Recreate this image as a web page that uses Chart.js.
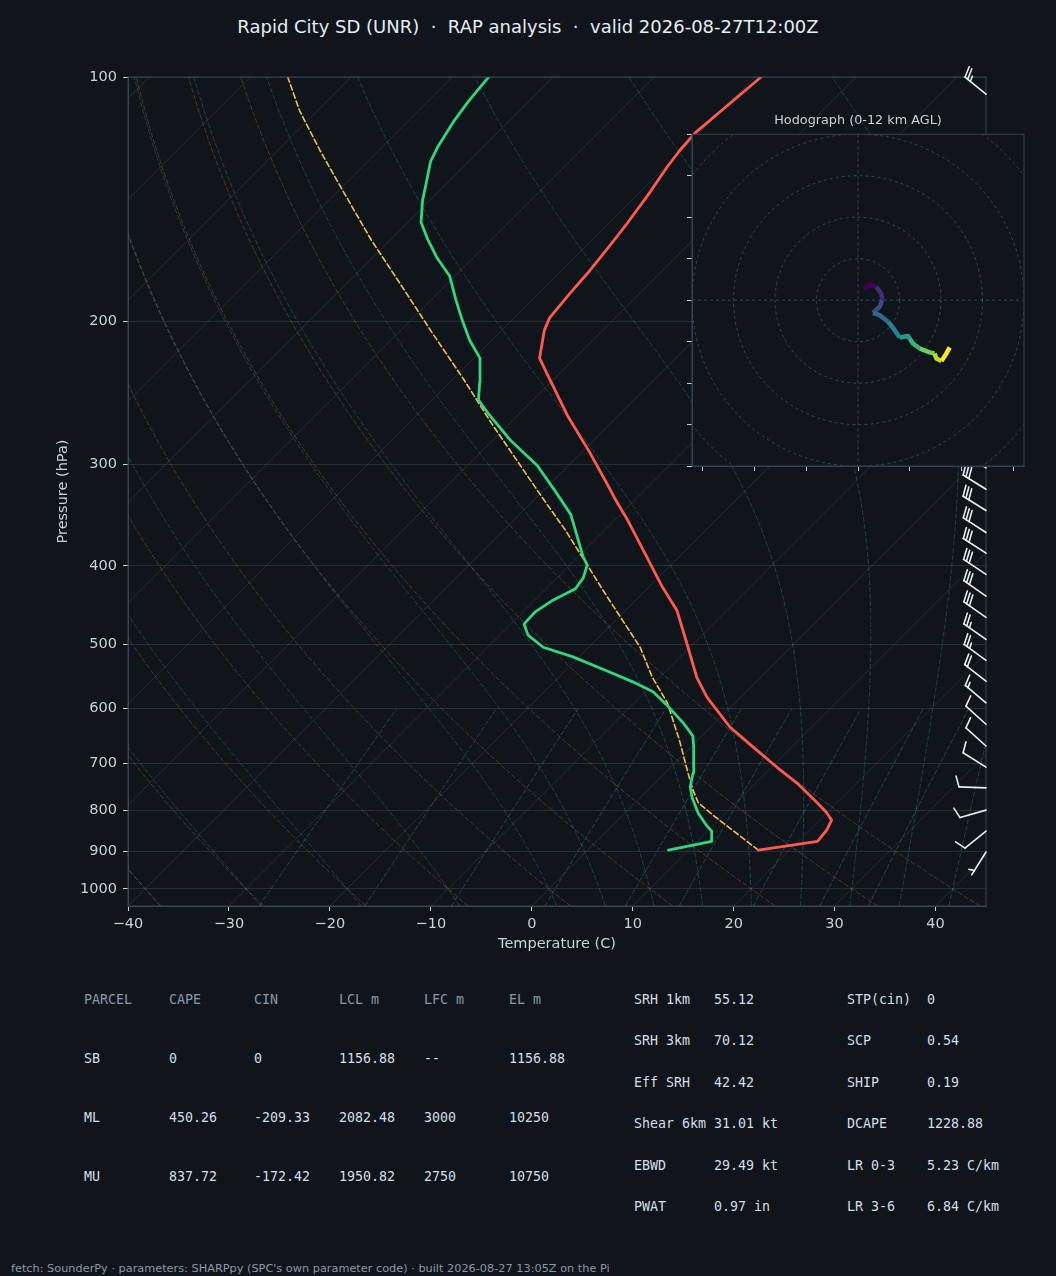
<!DOCTYPE html>
<html>
<head>
<meta charset="utf-8">
<title>Rapid City SD skew-T</title>
<script src="https://cdn.jsdelivr.net/npm/chart.js@4.4.1/dist/chart.umd.min.js"></script>
<style>
  html, body { margin: 0; padding: 0; background: #10151c; }
  body { position: relative; width: 1056px; height: 1276px; overflow: hidden; font-family: "DejaVu Sans", sans-serif; }
  #title { position: absolute; left: 0; top: 16px; width: 1056px; text-align: center; font-size: 18px; line-height: 22px; color: #e6edf3; white-space: pre; }
  #skew { position: absolute; left: 0; top: 0; }
  #hodo { position: absolute; left: 668px; top: 100px; }
  .t { position: absolute; font-family: "DejaVu Sans Mono", monospace; font-size: 13.3px; line-height: 16px; white-space: pre; color: #d6dde4; }
  .h { color: #8b98a9; }
  #footer { position: absolute; left: 11px; top: 1262px; font-size: 11.3px; line-height: 14px; color: #8b98a9; white-space: pre; }
</style>
</head>
<body>
<div id="title">Rapid City SD (UNR)  ·  RAP analysis  ·  valid 2026-08-27T12:00Z</div>
<canvas id="skew" width="1056" height="960"></canvas>
<canvas id="hodo" width="380" height="380"></canvas>
<div id="tables"></div>
<div id="footer">fetch: SounderPy · parameters: SHARPpy (SPC's own parameter code) · built 2026-08-27 13:05Z on the Pi</div>
<script>
// sounding (hPa / degC)
const tempP = [896, 874, 847, 823, 805, 784, 741, 708, 669, 632, 581, 549, 498, 454, 423, 390, 351, 332, 318, 290, 261, 233, 222, 205, 198, 185, 173, 161, 151, 140, 129, 123, 117, 100];
const tempC = [16.9, 21.9, 21.7, 21.2, 19.9, 18.1, 14.1, 10.5, 6.2, 1.9, -3.3, -6.3, -10.7, -14.9, -18.9, -23.2, -28.8, -31.9, -34.2, -39.2, -45.1, -51.0, -53.5, -55.8, -56.5, -56.9, -57.2, -57.7, -58.2, -58.9, -59.8, -60.2, -60.4, -59.4];

const dewP = [896, 874, 849, 835, 807, 773, 749, 720, 669, 648, 625, 594, 572, 556, 541, 518, 504, 487, 472, 456, 441, 427, 414, 399, 390, 346, 323, 301, 280, 261, 250, 238, 222, 211, 199, 188, 176, 167, 158, 151, 142, 134, 127, 122, 113, 107, 100];
const dewC = [8.0, 11.4, 10.4, 9.3, 7.3, 5.2, 3.9, 2.8, 0.3, -0.9, -3.1, -6.5, -9.2, -12.2, -15.4, -20.6, -24.5, -27.2, -28.7, -28.8, -28.2, -27.1, -27.4, -28.3, -29.5, -34.9, -38.9, -43.1, -48.3, -52.8, -55.4, -57.0, -59.4, -62.2, -65.0, -67.6, -70.5, -73.6, -76.5, -78.7, -80.7, -82.3, -83.8, -84.5, -85.5, -86.0, -86.4];

const parcelP = [896, 816, 784, 756, 720, 656, 590, 549, 504, 476, 435, 399, 361, 332, 268, 235, 205, 180, 159, 138, 123, 110, 100];
const parcelC = [16.9, 9.4, 6.3, 4.5, 2.3, -1.8, -6.7, -10.7, -14.9, -18.2, -23.4, -28.3, -34.0, -39.0, -51.6, -59.1, -67.1, -74.6, -81.8, -89.6, -95.9, -101.8, -106.3];

// wind barbs (direction from, knots)
const barbP   = [105, 303, 322, 342, 364, 386, 410, 436, 463, 493, 523, 555, 590, 627, 667, 708, 751, 800, 849, 901];
const barbDir = [309, 300, 302, 302, 303, 303, 304, 305, 305, 305, 306, 308, 310, 312, 312, 302, 272, 254, 231, 212];
const barbKt  = [25, 30, 30, 30, 30, 30, 30, 30, 30, 25, 25, 20, 15, 10, 10, 10, 10, 10, 10, 5];

// hodograph trace, 0-12 km (kt)
const hodoU = [2.9, 5.6, 8.8, 11.2, 11.7, 10.4, 7.2, 10.4, 14.5, 17.7, 20.1, 24.1, 24.9, 26.5, 29.7, 34.5, 36.9, 37.8, 40.2, 42.6, 44.2];
const hodoV = [5.3, 7.6, 6.4, 3.2, 0, -3.2, -6.1, -7.2, -10.4, -14.5, -18.0, -17.3, -18.5, -20.9, -23.3, -25.2, -25.7, -28.1, -29.4, -25.7, -22.8];

const pTicks = [100, 200, 300, 400, 500, 600, 700, 800, 900, 1000];
const tTicks = [-40, -30, -20, -10, 0, 10, 20, 30, 40];
const hodoXTicks = [-75, -50, -25, 0, 25, 50, 75];
const hodoYTicks = [-80, -60, -40, -20, 0, 20, 40, 60, 80];
const hodoRings = [20, 40, 60, 80, 100];

// reference line families
const dryT0 = [-40, -30, -20, -10, 0, 10, 20, 30, 40];
const moistT0 = [-40, -30, -20, -10, 0, 5, 10, 15, 20, 25, 30, 35, 40, 45];
const mixRatios = [0.0004, 0.001, 0.002, 0.004, 0.007, 0.01, 0.016, 0.024, 0.032];

const parcelHead = ['PARCEL', 'CAPE', 'CIN', 'LCL m', 'LFC m', 'EL m'];
const parcelRows = [
  ['SB', '0', '0', '1156.88', '--', '1156.88'],
  ['ML', '450.26', '-209.33', '2082.48', '3000', '10250'],
  ['MU', '837.72', '-172.42', '1950.82', '2750', '10750'],
];
const idxLeft = [['SRH 1km', '55.12'], ['SRH 3km', '70.12'], ['Eff SRH', '42.42'], ['Shear 6km', '31.01 kt'], ['EBWD', '29.49 kt'], ['PWAT', '0.97 in']];
const idxRight = [['STP(cin)', '0'], ['SCP', '0.54'], ['SHIP', '0.19'], ['DCAPE', '1228.88'], ['LR 0-3', '5.23 C/km'], ['LR 3-6', '6.84 C/km']];

// ---- look ----
const BG = '#10151c';
const FRAME = '#3a4553';
const TICK = '#c9d1d9';
const GRID = 'rgba(150,165,185,0.17)';
const FONT = "'DejaVu Sans', sans-serif";

// ---- skew-T geometry ----
const P_BOT = 1050, P_TOP = 100, T_MIN = -40, T_MAX = 45;
const SKEW = 80.42; // degC of x shift per decade of pressure -> 45 deg isotherms
const skewX = (t, p) => t + SKEW * Math.log10(P_BOT / p);
const pts = (ps, ts) => ps.map((p, i) => ({ x: skewX(ts[i], p), y: p }));

const pLevels = [];
for (let p = 1050; p >= 100; p -= 10) pLevels.push(p);

// thermo bits for the background lines
const Rd = 287.04749, Cp = 1004.6662, Lv = 2.50084e6, EPS = 0.6219569, KAPPA = Rd / Cp;
const satVap = tK => 6.112 * Math.exp(17.67 * (tK - 273.15) / (tK - 29.65));
function moistGrad(p, tK) {
  const es = satVap(tK);
  const rs = EPS * es / (p - es);
  return (Rd * tK + Lv * rs) / (Cp + Lv * Lv * rs * EPS / (Rd * tK * tK)) / p;
}
function rk4(p, t, dp) {
  const k1 = moistGrad(p, t);
  const k2 = moistGrad(p + dp / 2, t + dp / 2 * k1);
  const k3 = moistGrad(p + dp / 2, t + dp / 2 * k2);
  const k4 = moistGrad(p + dp, t + dp * k3);
  return t + dp / 6 * (k1 + 2 * k2 + 2 * k3 + k4);
}
function moistLine(t0) {
  const at = new Map();
  let t = t0 + 273.15;
  at.set(1000, t);
  for (let p = 1000; p > 100; p -= 10) { t = rk4(p, t, -5); t = rk4(p - 5, t, -5); at.set(p - 10, t); }
  t = t0 + 273.15;
  for (let p = 1000; p < 1050; p += 10) { t = rk4(p, t, 10); at.set(p + 10, t); }
  return pLevels.map(p => ({ x: skewX(at.get(p) - 273.15, p), y: p }));
}
function dewFromMix(w, p) {
  const e = w * p / (EPS + w);
  const l = Math.log(e / 6.112);
  return 243.5 * l / (17.67 - l);
}

const line = (data, color, width, dash, order) => ({
  data, borderColor: color, borderWidth: width, borderDash: dash || [],
  pointRadius: 0, fill: false, tension: 0, order,
  borderJoinStyle: 'round', borderCapStyle: 'round',
});

const datasets = [
  line(pts(tempP, tempC), '#ff5a4c', 2.8, null, 0),
  line(pts(dewP, dewC), '#33d67c', 2.8, null, 1),
  line(pts(parcelP, parcelC), '#f2c14e', 1.6, [5.5, 3], 2),
];
for (let t = -130; t <= 40; t += 10) {
  datasets.push(line([{ x: skewX(t, P_BOT), y: P_BOT }, { x: skewX(t, P_TOP), y: P_TOP }], GRID, 1, null, 10));
}
dryT0.forEach(t0 => {
  const th = t0 + 273.15;
  datasets.push(line(pLevels.map(p => ({ x: skewX(th * Math.pow(p / 1000, KAPPA) - 273.15, p), y: p })),
    'rgba(200,140,70,0.32)', 1, [5, 2], 9));
});
moistT0.forEach(t0 => datasets.push(line(moistLine(t0), 'rgba(90,160,175,0.30)', 1, [5, 2], 8)));
mixRatios.forEach(w => {
  const ps = pLevels.filter(p => p >= 600);
  datasets.push(line(ps.map(p => ({ x: skewX(dewFromMix(w, p), p), y: p })), 'rgba(90,160,175,0.34)', 1, [5, 2], 7));
});
datasets.forEach(d => { if (d.order > 2) { d.borderJoinStyle = 'miter'; d.borderCapStyle = 'butt'; } });

// ---- plugins ----
const frame = {
  id: 'frame',
  afterDraw(chart) {
    const { ctx, chartArea: a } = chart;
    ctx.save();
    ctx.strokeStyle = FRAME;
    ctx.lineWidth = 1;
    ctx.strokeRect(a.left, a.top, a.right - a.left, a.bottom - a.top);
    ctx.restore();
  }
};

function drawBarb(ctx, bx, by, dir, kt, L) {
  const r = dir * Math.PI / 180;
  const sx = Math.sin(r), sy = -Math.cos(r);  // staff, toward where the wind comes from
  const fx = Math.cos(r), fy = Math.sin(r);   // feather side
  const H = 0.4 * L, W = 0.25 * L, sp = 0.125 * L;
  const seg = (x0, y0, x1, y1) => { ctx.beginPath(); ctx.moveTo(x0, y0); ctx.lineTo(x1, y1); ctx.stroke(); };
  const at = d => [bx + (L - d) * sx, by + (L - d) * sy];
  seg(bx, by, bx + L * sx, by + L * sy);
  let spd = Math.round(kt / 5) * 5;
  const flags = Math.floor(spd / 50); spd -= flags * 50;
  const full = Math.floor(spd / 10); spd -= full * 10;
  const half = spd >= 5;
  let off = 0;
  for (let i = 0; i < flags; i++) {
    const [ax, ay] = at(off), [cx, cy] = at(off + W);
    ctx.beginPath(); ctx.moveTo(ax, ay);
    ctx.lineTo(ax + H * fx - W / 2 * sx, ay + H * fy - W / 2 * sy);
    ctx.lineTo(cx, cy); ctx.closePath(); ctx.fill();
    off += W + sp;
  }
  for (let i = 0; i < full; i++) {
    const [ax, ay] = at(off);
    seg(ax, ay, ax + H * fx + W / 2 * sx, ay + H * fy + W / 2 * sy);
    off += sp;
  }
  if (half) {
    if (off === 0) off = 1.5 * sp;
    const [ax, ay] = at(off);
    seg(ax, ay, ax + H / 2 * fx + W / 4 * sx, ay + H / 2 * fy + W / 4 * sy);
  }
}

const barbs = {
  id: 'barbs',
  afterDraw(chart) {
    const { ctx, chartArea: a, scales: { y } } = chart;
    ctx.save();
    ctx.strokeStyle = '#e6edf3';
    ctx.fillStyle = '#e6edf3';
    ctx.lineWidth = 1.6;
    ctx.lineCap = 'round';
    barbP.forEach((p, i) => drawBarb(ctx, a.right, y.getPixelForValue(p), barbDir[i], barbKt[i], 27));
    ctx.restore();
  }
};

const minus = v => (v < 0 ? '\u2212' + Math.abs(v) : String(v));

new Chart(document.getElementById('skew'), {
  type: 'line',
  data: { datasets },
  options: {
    responsive: false,
    animation: false,
    events: [],
    layout: { padding: { left: 0, top: 77, right: 70, bottom: 0 } },
    plugins: { legend: { display: false }, tooltip: { enabled: false }, title: { display: false } },
    scales: {
      x: {
        type: 'linear', min: T_MIN, max: T_MAX,
        afterBuildTicks: s => { s.ticks = tTicks.map(v => ({ value: v })); },
        afterFit: s => { s.height = 54; },
        ticks: { color: TICK, font: { size: 14.5, family: FONT }, padding: 5, maxRotation: 0, autoSkip: false, callback: v => minus(v) },
        grid: { drawOnChartArea: false, tickLength: 5, tickColor: TICK },
        border: { color: FRAME },
        title: { display: true, text: 'Temperature (C)', color: TICK, font: { size: 14.5, family: FONT }, padding: { top: 0, bottom: 7 } }
      },
      y: {
        type: 'logarithmic', reverse: true, min: P_TOP, max: P_BOT,
        afterBuildTicks: s => { s.ticks = pTicks.map(v => ({ value: v })); },
        afterFit: s => { s.width = 128; },
        ticks: { color: TICK, font: { size: 14.5, family: FONT }, padding: 6, autoSkip: false, callback: v => String(v) },
        grid: { color: GRID, tickLength: 5, tickColor: TICK },
        border: { color: FRAME },
        title: { display: true, text: 'Pressure (hPa)', color: TICK, font: { size: 14.5, family: FONT }, padding: { top: 55, bottom: 0 } }
      }
    }
  },
  plugins: [frame, barbs]
});

// ---- hodograph inset ----
const viridis = ['#440154', '#482878', '#3e4989', '#31688e', '#26828e', '#1f9e89', '#35b779', '#6ece58', '#b5de2b', '#fde725'];
function viridisAt(f) {
  const i = Math.min(viridis.length - 1, Math.max(0, Math.round(f * (viridis.length - 1))));
  return viridis[i];
}

const hodoDeco = {
  id: 'hodoDeco',
  beforeDraw(chart) {
    const { ctx, chartArea: a } = chart;
    ctx.save();
    ctx.fillStyle = BG;
    ctx.fillRect(a.left, a.top, a.right - a.left, a.bottom - a.top);
    ctx.restore();
  },
  beforeDatasetsDraw(chart) {
    const { ctx, chartArea: a, scales: { x, y } } = chart;
    const cx = x.getPixelForValue(0), cy = y.getPixelForValue(0);
    ctx.save();
    ctx.beginPath();
    ctx.rect(a.left, a.top, a.right - a.left, a.bottom - a.top);
    ctx.clip();
    ctx.strokeStyle = 'rgba(150,165,185,0.32)';
    ctx.lineWidth = 1;
    ctx.setLineDash([3, 3]);
    hodoRings.forEach(r => {
      ctx.beginPath();
      ctx.arc(cx, cy, x.getPixelForValue(r) - cx, 0, Math.PI * 2);
      ctx.stroke();
    });
    ctx.beginPath();
    ctx.moveTo(a.left, cy); ctx.lineTo(a.right, cy);
    ctx.moveTo(cx, a.top); ctx.lineTo(cx, a.bottom);
    ctx.stroke();
    ctx.restore();
  },
  afterDraw(chart) {
    const { ctx, chartArea: a } = chart;
    ctx.save();
    ctx.strokeStyle = '#33404f';
    ctx.lineWidth = 1;
    ctx.strokeRect(a.left, a.top, a.right - a.left, a.bottom - a.top);
    ctx.restore();
  }
};

new Chart(document.getElementById('hodo'), {
  type: 'line',
  data: {
    datasets: [{
      data: hodoU.map((u, i) => ({ x: u, y: hodoV[i] })),
      borderWidth: 4.5, pointRadius: 0, tension: 0, fill: false,
      borderCapStyle: 'butt', borderJoinStyle: 'round',
      segment: { borderColor: c => viridisAt(c.p0DataIndex / (hodoU.length - 2)) }
    }]
  },
  options: {
    responsive: false,
    animation: false,
    events: [],
    layout: { padding: { left: 0, top: 0, right: 24, bottom: 0 } },
    plugins: {
      legend: { display: false }, tooltip: { enabled: false },
      title: { display: true, fullSize: false, text: 'Hodograph (0-12 km AGL)', color: TICK, font: { size: 12.8, family: FONT, weight: 'normal' }, padding: { top: 13, bottom: 6 } }
    },
    scales: {
      x: {
        type: 'linear', min: -80, max: 80,
        afterBuildTicks: s => { s.ticks = hodoXTicks.map(v => ({ value: v })); },
        afterFit: s => { s.height = 14; },
        ticks: { display: false },
        grid: { drawOnChartArea: false, tickLength: 5, tickColor: TICK },
        border: { color: '#33404f' }
      },
      y: {
        type: 'linear', min: -80, max: 80,
        afterBuildTicks: s => { s.ticks = hodoYTicks.map(v => ({ value: v })); },
        afterFit: s => { s.width = 24; },
        ticks: { display: false },
        grid: { drawOnChartArea: false, tickLength: 5, tickColor: TICK },
        border: { color: '#33404f' }
      }
    }
  },
  plugins: [hodoDeco]
});

// ---- parameter tables ----
const tables = document.getElementById('tables');
function put(text, x, yc, cls) {
  const d = document.createElement('div');
  d.className = 't' + (cls ? ' ' + cls : '');
  d.textContent = text;
  d.style.left = x + 'px';
  d.style.top = (yc - 8) + 'px';
  tables.appendChild(d);
}
parcelHead.forEach((h, i) => put(h, 84 + 85 * i, 1000, 'h'));
parcelRows.forEach((row, j) => row.forEach((c, i) => put(c, 84 + 85 * i, 1059 + 59 * j)));
idxLeft.forEach(([k, v], j) => { put(k, 634, 1000 + 41.4 * j); put(v, 714, 1000 + 41.4 * j); });
idxRight.forEach(([k, v], j) => { put(k, 847, 1000 + 41.4 * j); put(v, 927, 1000 + 41.4 * j); });
</script>
</body>
</html>
